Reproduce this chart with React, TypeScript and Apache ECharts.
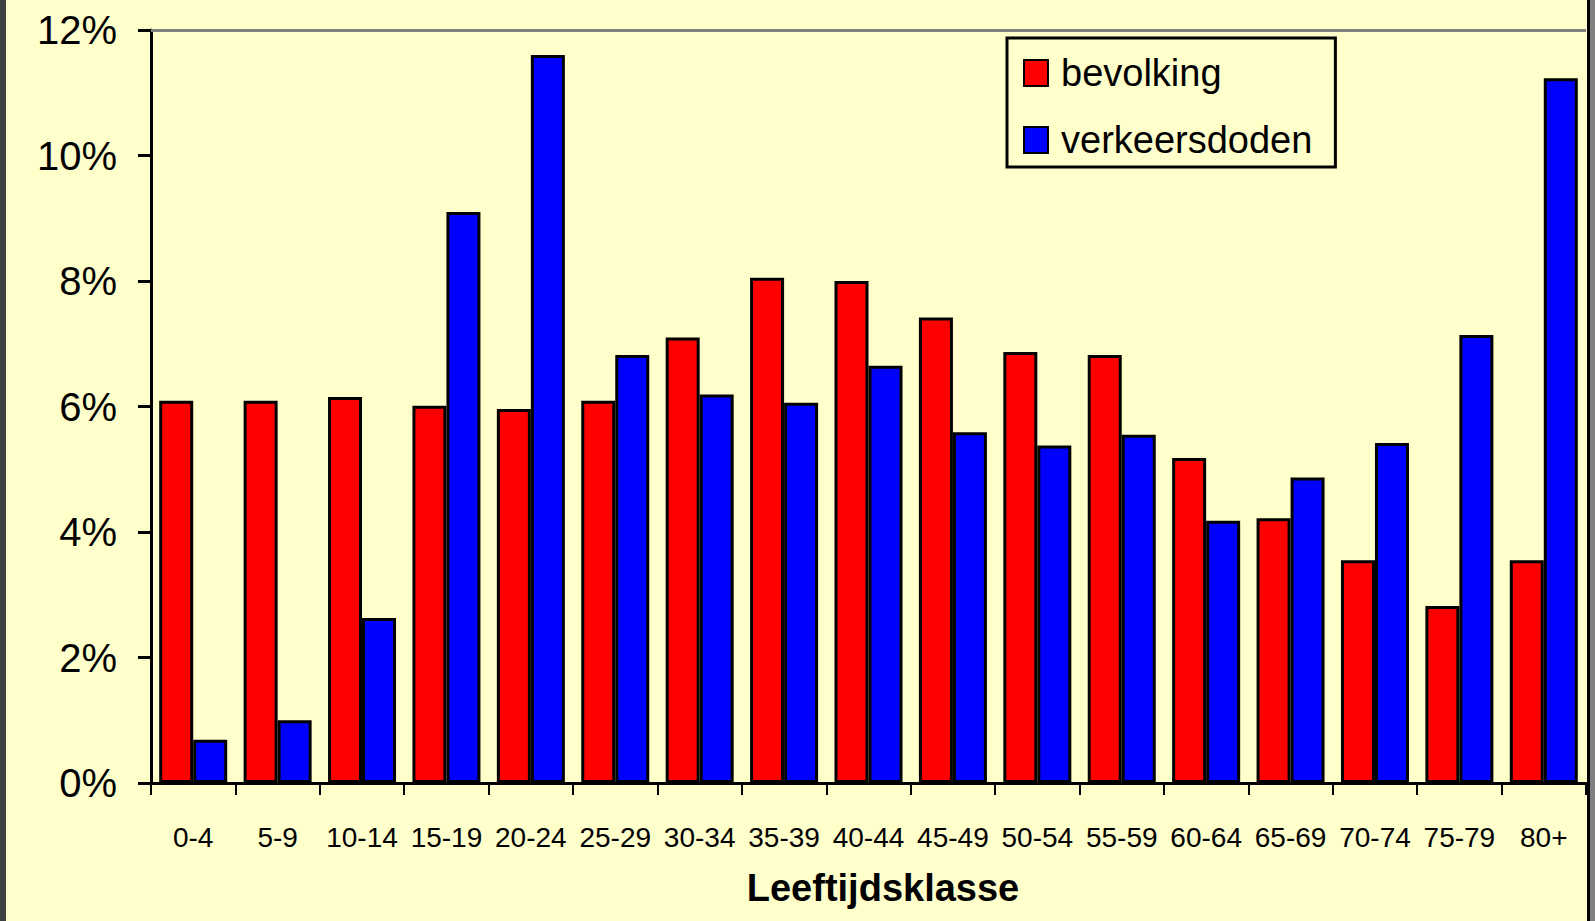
import React, { useEffect, useRef } from "react";
import * as echarts from "echarts";

const categories = [
  "0-4", "5-9", "10-14", "15-19", "20-24", "25-29", "30-34", "35-39", "40-44",
  "45-49", "50-54", "55-59", "60-64", "65-69", "70-74", "75-79", "80+",
];
const bevolking = [6.09, 6.09, 6.15, 6.01, 5.96, 6.09, 7.1, 8.05, 8.0, 7.42, 6.87, 6.82, 5.18, 4.22, 3.55, 2.82, 3.55];
const verkeersdoden = [0.69, 1.0, 2.63, 9.1, 11.6, 6.82, 6.19, 6.06, 6.65, 5.59, 5.38, 5.55, 4.18, 4.87, 5.42, 7.14, 11.23];
const seriesNames = ["bevolking", "verkeersdoden"];
const axisTitle = "Leeftijdsklasse";
const yMin = 0;
const yMax = 12;
const yStep = 2;

const BG = "#FFFFCC";
const FONT = "'Liberation Sans', Arial, sans-serif";

export default function App() {
  const ref = useRef<HTMLDivElement>(null);

  useEffect(() => {
    document.body.style.margin = "0";
    const chart = echarts.init(ref.current!, null, { renderer: "svg" });
    chart.setOption({
      animation: false,
      backgroundColor: BG,
      textStyle: { fontFamily: FONT },
      grid: { left: 151, right: 9, top: 30, bottom: 138, containLabel: false },
      legend: {
        orient: "vertical",
        left: 1007,
        top: 38,
        padding: [16, 23, 8, 16],
        itemGap: 29,
        itemWidth: 24,
        itemHeight: 26,
        icon: "rect",
        backgroundColor: BG,
        borderColor: "#000",
        borderWidth: 3,
        borderRadius: 0,
        itemStyle: { borderColor: "#000", borderWidth: 2 },
        textStyle: { fontSize: 38, color: "#000", fontFamily: FONT, padding: [0, 0, 0, 8] },
        data: seriesNames,
      },
      xAxis: {
        type: "category",
        data: categories,
        boundaryGap: true,
        name: axisTitle,
        nameLocation: "middle",
        nameGap: 86,
        nameTextStyle: {
          fontSize: 38,
          fontWeight: "bold",
          color: "#000",
          fontFamily: FONT,
          padding: [0, 0, 0, 29],
        },
        axisLine: { show: true, lineStyle: { color: "#000", width: 3 } },
        axisTick: { show: true, alignWithLabel: false, length: 12, lineStyle: { color: "#000", width: 2 } },
        axisLabel: { interval: 0, margin: 40, fontSize: 28, color: "#000", fontFamily: FONT },
        splitLine: { show: false },
      },
      yAxis: {
        type: "value",
        min: yMin,
        max: yMax,
        interval: yStep,
        axisLine: { show: true, lineStyle: { color: "#000", width: 3 } },
        axisTick: { show: true, length: 13, lineStyle: { color: "#000", width: 3 } },
        axisLabel: { margin: 34, fontSize: 40, color: "#000", fontFamily: FONT, formatter: "{value}%" },
        splitLine: { show: false },
      },
      series: [
        {
          name: seriesNames[0],
          type: "bar",
          data: bevolking,
          barWidth: 34,
          barGap: "0%",
          itemStyle: { color: "#FF0000", borderColor: "#000", borderWidth: 3 },
          markLine: {
            silent: true,
            symbol: ["none", "none"],
            label: { show: false },
            lineStyle: { color: "#808080", width: 3, type: "solid" },
            data: [{ yAxis: yMax }],
          },
          z: 2,
        },
        {
          name: seriesNames[1],
          type: "bar",
          data: verkeersdoden,
          barWidth: 34,
          barGap: "0%",
          itemStyle: { color: "#0000FF", borderColor: "#000", borderWidth: 3 },
          z: 2,
        },
      ],
    });
    return () => chart.dispose();
  }, []);

  return (
    <div style={{ position: "fixed", left: 0, top: 0, width: 1595, height: 921, background: BG }}>
      <div ref={ref} style={{ position: "absolute", left: 0, top: 0, width: 1595, height: 921 }} />
      <div style={{ position: "absolute", left: 0, top: 0, width: 6, height: 921, background: "#404040" }} />
      <div style={{ position: "absolute", left: 1587, top: 0, width: 3, height: 921, background: "#000" }} />
      <div style={{ position: "absolute", left: 1590, top: 0, width: 5, height: 921, background: "#808080" }} />
    </div>
  );
}
